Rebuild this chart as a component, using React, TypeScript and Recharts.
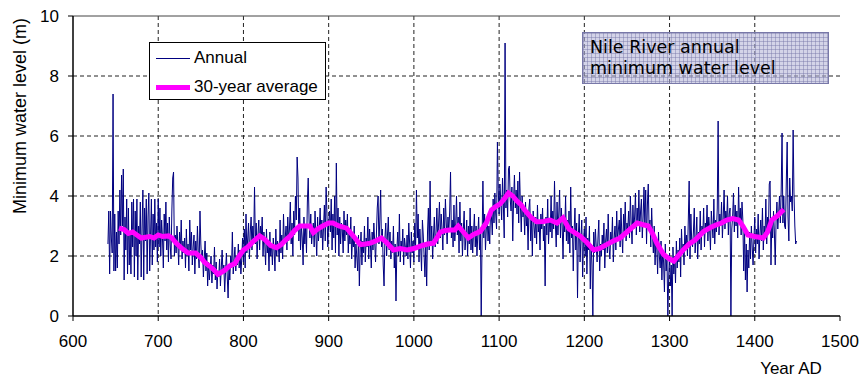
import React from 'react';
import { LineChart, Line, XAxis, YAxis, CartesianGrid, ReferenceLine, Legend } from 'recharts';

// annual minimum level, one value per year starting at FIRST_YEAR
const FIRST_YEAR = 641;
const annualLevels = [
  2.4, 3.5, 1.4, 3.5, 2.6, 2.1, 7.4, 1.5, 3.4, 1.5,
  2.8, 1.6, 3.5, 2.4, 4.2, 2.7, 4.7, 3.0, 4.9, 1.2,
  3.3, 2.2, 3.9, 1.4, 3.6, 1.7, 2.8, 1.4, 3.8, 2.3,
  3.9, 1.3, 3.5, 2.0, 3.9, 1.2, 3.0, 2.4, 3.8, 1.3,
  2.9, 4.2, 1.2, 3.6, 2.5, 3.9, 1.4, 3.3, 4.1, 1.5,
  2.7, 3.9, 1.7, 3.4, 2.2, 3.9, 2.3, 3.1, 1.8, 3.9,
  2.3, 3.6, 2.0, 3.2, 2.6, 1.6, 3.4, 2.5, 3.8, 2.2,
  3.1, 1.8, 3.3, 2.4, 1.9, 3.5, 4.6, 4.8, 2.0, 2.7,
  2.1, 3.0, 2.4, 1.7, 2.8, 2.2, 3.2, 1.9, 2.5, 2.1,
  2.6, 1.6, 2.9, 2.0, 2.4, 1.5, 3.2, 2.2, 2.8, 1.7,
  2.3, 2.7, 1.4, 2.5, 1.9, 3.0, 2.1, 1.6, 3.5, 2.4,
  1.8, 2.2, 1.3, 1.9, 2.5, 1.5, 2.1, 1.0, 1.8, 1.2,
  1.6, 2.0, 1.1, 1.7, 1.4, 2.3, 1.2, 1.8, 0.9, 1.5,
  1.3, 1.9, 1.0, 1.6, 2.2, 1.4, 1.7, 0.8, 1.5, 2.1,
  1.3, 0.6, 1.7, 1.2, 2.0, 1.6, 2.8, 1.4, 1.9, 2.3,
  1.5, 2.0, 1.7, 2.4, 1.6, 2.2, 1.4, 1.9, 2.6, 1.8,
  2.9, 1.6, 3.4, 2.1, 2.6, 3.1, 1.9, 2.8, 3.3, 2.2,
  3.0, 2.5, 4.3, 2.4, 3.1, 1.9, 2.7, 3.2, 2.2, 3.0,
  2.6, 3.3, 2.0, 2.8, 2.4, 1.7, 2.9, 2.1, 2.5, 1.5,
  2.8, 2.0, 2.4, 1.7, 2.6, 2.2, 1.5, 2.9, 2.0, 2.5,
  2.3, 1.8, 3.2, 2.1, 2.7, 1.9, 3.4, 2.4, 2.6, 3.0,
  2.2, 3.3, 2.5, 2.9, 3.8, 2.4, 3.1, 2.0, 3.5, 2.7,
  4.0, 3.2, 5.3, 4.6, 2.5, 3.6, 2.2, 3.0, 2.6, 1.7,
  3.3, 2.4, 3.0, 2.1, 3.8, 4.6, 3.2, 2.6, 3.4, 2.4,
  2.8, 3.1, 2.3, 3.5, 2.7, 2.0, 3.3, 2.5, 2.9, 3.6,
  2.6, 3.2, 2.2, 3.0, 3.7, 2.5, 4.3, 3.4, 2.3, 3.1,
  3.5, 2.8, 3.9, 2.2, 3.4, 2.6, 4.0, 2.1, 5.1, 2.7,
  3.6, 2.0, 3.3, 2.4, 3.1, 2.9, 2.1, 3.5, 2.5, 3.2,
  2.7, 3.4, 2.1, 2.9, 2.4, 3.3, 1.9, 2.6, 2.3, 3.0,
  1.6, 2.4, 2.0, 1.5, 2.7, 1.0, 2.2, 2.8, 1.7, 2.5,
  2.1, 3.0, 1.8, 2.6, 2.3, 3.3, 1.9, 2.9, 2.4, 1.6,
  2.8, 2.2, 3.1, 2.5, 1.8, 2.7, 3.6, 4.0, 2.4, 3.2,
  4.2, 2.3, 2.9, 1.7, 1.0, 2.6, 3.1, 2.0, 2.7, 3.3,
  2.2, 2.8, 1.9, 2.5, 2.1, 3.0, 1.6, 2.4, 0.5, 2.2,
  2.8, 2.0, 3.4, 1.8, 2.5, 2.2, 2.9, 1.7, 2.6, 2.3,
  2.0, 2.7, 1.9, 3.1, 2.4, 1.6, 2.8, 2.1, 2.5, 1.8,
  3.1, 2.2, 4.2, 2.6, 3.4, 1.8, 2.9, 2.3, 1.5, 3.2,
  2.7, 2.0, 1.3, 2.4, 1.0, 2.8, 3.6, 2.2, 4.5, 2.5,
  3.0, 1.9, 2.7, 3.3, 2.3, 2.8, 3.6, 2.4, 3.1, 3.8,
  2.6, 3.4, 2.9, 2.2, 3.6, 2.7, 3.9, 3.1, 2.4, 3.3,
  2.8, 3.5, 4.8, 2.6, 3.2, 2.3, 3.7, 2.5, 3.0, 4.0,
  2.7, 3.3, 2.1, 3.8, 2.5, 3.1, 2.0, 2.9, 3.5, 2.2,
  2.6, 3.2, 2.0, 3.0, 2.4, 3.6, 2.2, 3.0, 2.1, 2.8,
  3.4, 2.3, 3.0, 2.0, 2.7, 3.3, 2.2, 2.9, 0.0, 2.5,
  4.5, 2.6, 3.4, 2.2, 2.9, 3.3, 2.5, 3.0, 2.4, 3.6,
  3.3, 2.7, 3.9, 3.1, 4.1, 3.4, 2.9, 5.8, 4.2, 3.4,
  4.4, 3.8, 3.2, 4.6, 3.7, 2.6, 9.1, 3.6, 4.2, 3.3,
  4.9, 5.0, 3.9, 3.5, 4.3, 2.5, 3.9, 4.7, 3.6, 4.2,
  3.4, 4.5, 3.1, 4.8, 3.7, 2.8, 4.0, 3.3, 3.6, 2.7,
  3.8, 3.0, 3.4, 2.2, 3.6, 3.9, 2.5, 3.2, 2.0, 3.5,
  3.0, 2.6, 3.3, 2.4, 3.7, 2.8, 3.1, 2.2, 3.4, 2.9,
  3.6, 2.5, 3.0, 1.0, 3.3, 2.7, 3.9, 2.4, 3.2, 2.8,
  4.0, 2.6, 3.5, 2.9, 4.5, 3.1, 2.3, 3.8, 2.7, 3.4,
  4.2, 2.6, 3.6, 3.0, 1.9, 3.3, 2.8, 4.0, 2.5, 3.2,
  2.4, 3.5, 2.1, 4.3, 2.6, 3.0, 1.5, 2.8, 3.6, 2.2,
  3.1, 0.6, 2.7, 3.4, 1.8, 2.6, 3.2, 1.3, 2.5, 2.9,
  2.0, 3.3, 1.4, 2.6, 2.2, 3.0, 0.9, 2.4, 1.7, 0.0,
  2.8, 2.1, 2.9, 2.3, 1.8, 2.6, 3.2, 1.5, 2.4, 2.0,
  2.7, 2.2, 3.1, 1.6, 2.5, 2.9, 2.1, 3.4, 2.3, 1.9,
  2.8, 2.4, 3.3, 1.8, 2.6, 3.0, 2.2, 3.5, 2.5, 2.9,
  3.2, 2.3, 3.6, 2.7, 2.1, 3.4, 2.8, 3.8, 2.5, 3.1,
  2.9, 3.5, 2.6, 4.0, 3.1, 2.4, 3.7, 2.9, 3.3, 4.1,
  2.7, 3.6, 3.0, 4.2, 2.8, 3.5, 3.9, 2.6, 3.3, 4.3,
  3.0, 4.2, 2.4, 3.7, 4.4, 2.9, 3.2, 2.3, 3.6, 2.7,
  2.1, 3.0, 1.7, 2.6, 2.3, 1.4, 2.8, 2.0, 1.6, 2.5,
  1.2, 2.2, 1.8, 0.8, 2.4, 1.5, 1.9, 0.0, 1.3, 2.1,
  1.0, 1.7, 0.0, 2.3, 1.4, 2.0, 1.1, 2.5, 1.6, 2.2,
  1.8, 2.6, 1.3, 2.9, 2.1, 2.4, 1.7, 3.0, 2.2, 2.7,
  2.0, 3.2, 4.5, 1.9, 3.4, 2.5, 2.3, 2.8, 3.6, 2.1,
  2.6, 3.3, 1.9, 2.8, 2.4, 3.5, 2.2, 3.0, 2.7, 3.6,
  2.3, 3.1, 2.8, 3.7, 2.5, 3.3, 2.9, 2.2, 3.5, 3.0,
  2.6, 3.9, 2.4, 3.2, 2.8, 3.6, 6.5, 2.7, 3.4, 3.0,
  3.8, 2.6, 3.3, 4.2, 2.9, 3.5, 3.1, 4.0, 2.7, 3.4,
  3.6, 0.0, 2.9, 3.3, 4.1, 2.8, 3.7, 3.0, 3.5, 2.6,
  4.3, 3.1, 3.6, 2.7, 3.8, 3.2, 1.5, 2.9, 1.2, 2.4,
  0.8, 2.2, 1.6, 2.8, 1.9, 3.0, 2.3, 1.7, 2.6, 3.3,
  2.1, 2.9, 2.4, 3.4, 1.9, 2.7, 3.2, 2.5, 3.6, 2.2,
  3.0, 2.6, 3.9, 2.4, 3.3, 2.8, 4.4, 4.5, 1.7, 3.1,
  2.6, 3.5, 2.8, 1.7, 3.2, 3.8, 2.9, 3.4, 4.0, 3.1,
  4.2, 6.1, 3.1, 4.0, 3.0, 2.9, 4.5, 5.8, 3.3, 2.5,
  4.6, 3.8, 4.0, 3.5, 6.2, 4.1, 3.0, 2.4, 2.5,
];

// 30-year running average
const avgYears = [
  654, 660, 665, 670, 680, 690, 695, 700, 705, 712, 716, 721, 728, 735, 744, 750, 754, 760, 765, 770,
  777, 784, 790, 795, 800, 805, 812, 819, 825, 832, 839, 845, 850, 855, 860, 866, 872, 878, 882, 887,
  893, 900, 905, 912, 921, 928, 937, 943, 949, 955, 962, 968, 976, 984, 992, 1000, 1003, 1010, 1016, 1023,
  1027, 1031, 1037, 1042, 1048, 1052, 1058, 1064, 1070, 1078, 1085, 1091, 1096, 1101, 1106, 1111, 1116, 1121, 1126, 1130,
  1137, 1144, 1152, 1160, 1168, 1175, 1182, 1189, 1195, 1203, 1211, 1218, 1226, 1234, 1242, 1250, 1256, 1262, 1268, 1275,
  1280, 1285, 1293, 1300, 1305, 1310, 1316, 1323, 1330, 1340, 1348, 1355, 1361, 1367, 1374, 1381, 1386, 1392, 1400, 1410,
  1415, 1420, 1427, 1434,
];
const avgLevels = [
  2.93, 2.88, 2.75, 2.8, 2.6, 2.65, 2.6, 2.7, 2.65, 2.67, 2.6, 2.43, 2.25, 2.1, 2.1, 1.95, 1.8, 1.67, 1.55, 1.39,
  1.5, 1.67, 1.75, 2.0, 2.2, 2.3, 2.5, 2.67, 2.55, 2.35, 2.28, 2.4, 2.55, 2.67, 2.85, 3.0, 3.0, 3.0, 2.78, 2.9,
  3.0, 3.1, 3.1, 3.0, 2.93, 2.7, 2.38, 2.4, 2.43, 2.5, 2.6, 2.45, 2.2, 2.25, 2.2, 2.25, 2.28, 2.35, 2.4, 2.43,
  2.6, 2.8, 2.85, 2.87, 2.87, 3.0, 2.8, 2.6, 2.72, 2.82, 3.1, 3.53, 3.65, 3.73, 3.9, 4.1, 4.0, 3.83, 3.7, 3.53,
  3.3, 3.14, 3.15, 3.2, 3.1, 3.27, 2.9, 2.77, 2.67, 2.45, 2.2, 2.25, 2.38, 2.5, 2.6, 2.8, 2.95, 3.1, 3.05, 3.0,
  2.75, 2.43, 2.05, 1.9, 1.83, 2.0, 2.2, 2.4, 2.53, 2.82, 2.95, 3.04, 3.1, 3.2, 3.25, 3.2, 3.0, 2.7, 2.65, 2.6,
  2.8, 3.2, 3.35, 3.55,
];

const xTicks = [600, 700, 800, 900, 1000, 1100, 1200, 1300, 1400, 1500];
const yTicks = [0, 2, 4, 6, 8, 10];
const gridYears = [700, 800, 900, 1000, 1100, 1200, 1300, 1400];
const gridLevels = [2, 4, 6, 8];

const avgByYear = new Map(avgYears.map((y, i) => [y, avgLevels[i]]));
const data = annualLevels.map((v, i) => ({
  year: FIRST_YEAR + i,
  annual: v,
  avg: avgByYear.has(FIRST_YEAR + i) ? avgByYear.get(FIRST_YEAR + i) : null,
}));

const FONT = '"Liberation Sans", Arial, sans-serif';

const LegendBox = () => (
  <div style={{ position: 'relative', width: 177, height: 58, boxSizing: 'border-box', border: '1px solid #000', background: '#fff', fontFamily: FONT, fontSize: 17, color: '#000' }}>
    <div style={{ position: 'absolute', left: 6, top: 15, width: 34, height: 1, background: '#000080' }} />
    <div style={{ position: 'absolute', left: 44, top: 5, lineHeight: '20px' }}>Annual</div>
    <div style={{ position: 'absolute', left: 6, top: 42, width: 34, height: 5, background: '#ff00ff' }} />
    <div style={{ position: 'absolute', left: 44, top: 34, lineHeight: '20px' }}>30-year average</div>
  </div>
);

const YLabel = () => (
  <text x={20} y={116} transform="rotate(-90 20 116)" textAnchor="middle" dominantBaseline="central" fontFamily={FONT} fontSize={18} fill="#000">
    Minimum water level (m)
  </text>
);

const XLabel = () => (
  <text x={791} y={374} textAnchor="middle" fontFamily={FONT} fontSize={17} fill="#000">
    Year AD
  </text>
);

export default function App() {
  return (
    <div style={{ position: 'absolute', left: 0, top: 0, width: 863, height: 378, background: '#fff' }}>
      <LineChart width={863} height={378} data={data} margin={{ top: 16, right: 23, left: 0, bottom: 0 }}>
        <CartesianGrid stroke="#222" strokeDasharray="4 3" horizontalValues={gridLevels} verticalValues={gridYears} />
        <ReferenceLine y={10} stroke="#444" />
        <XAxis
          dataKey="year"
          type="number"
          domain={[600, 1500]}
          ticks={xTicks}
          height={62}
          tickSize={5}
          tickMargin={14}
          axisLine={{ stroke: '#000', strokeWidth: 1.5 }}
          tickLine={{ stroke: '#000' }}
          tick={{ fill: '#000', fontSize: 17, fontFamily: FONT }}
          label={<XLabel />}
        />
        <YAxis
          type="number"
          domain={[0, 10]}
          ticks={yTicks}
          width={73}
          tickSize={5}
          tickMargin={9}
          axisLine={{ stroke: '#000', strokeWidth: 1.5 }}
          tickLine={{ stroke: '#000' }}
          tick={{ fill: '#000', fontSize: 17, fontFamily: FONT }}
          label={<YLabel />}
        />
        <Line dataKey="annual" name="Annual" stroke="#000080" strokeWidth={1} dot={false} isAnimationActive={false} />
        <Line dataKey="avg" name="30-year average" stroke="#ff00ff" strokeWidth={5} dot={false} connectNulls isAnimationActive={false} />
        <Legend layout="vertical" align="center" verticalAlign="middle" content={<LegendBox />} wrapperStyle={{ left: 149, top: 42, width: 177, height: 58 }} />
      </LineChart>
      <div
        style={{
          position: 'absolute',
          left: 582,
          top: 32,
          width: 247,
          height: 52,
          boxSizing: 'border-box',
          border: '1px solid #7878a8',
          backgroundColor: 'rgba(176, 176, 214, 0.55)',
          backgroundImage:
            'linear-gradient(rgba(120,120,170,0.45) 1px, transparent 1px), linear-gradient(90deg, rgba(120,120,170,0.45) 1px, transparent 1px)',
          backgroundSize: '4px 4px',
          fontFamily: '"DejaVu Sans", Tahoma, sans-serif',
          fontSize: 17.5,
          lineHeight: '21px',
          color: '#000',
          padding: '4px 0 0 7px',
        }}
      >
        Nile River annual
        <br />
        minimum water level
      </div>
    </div>
  );
}
